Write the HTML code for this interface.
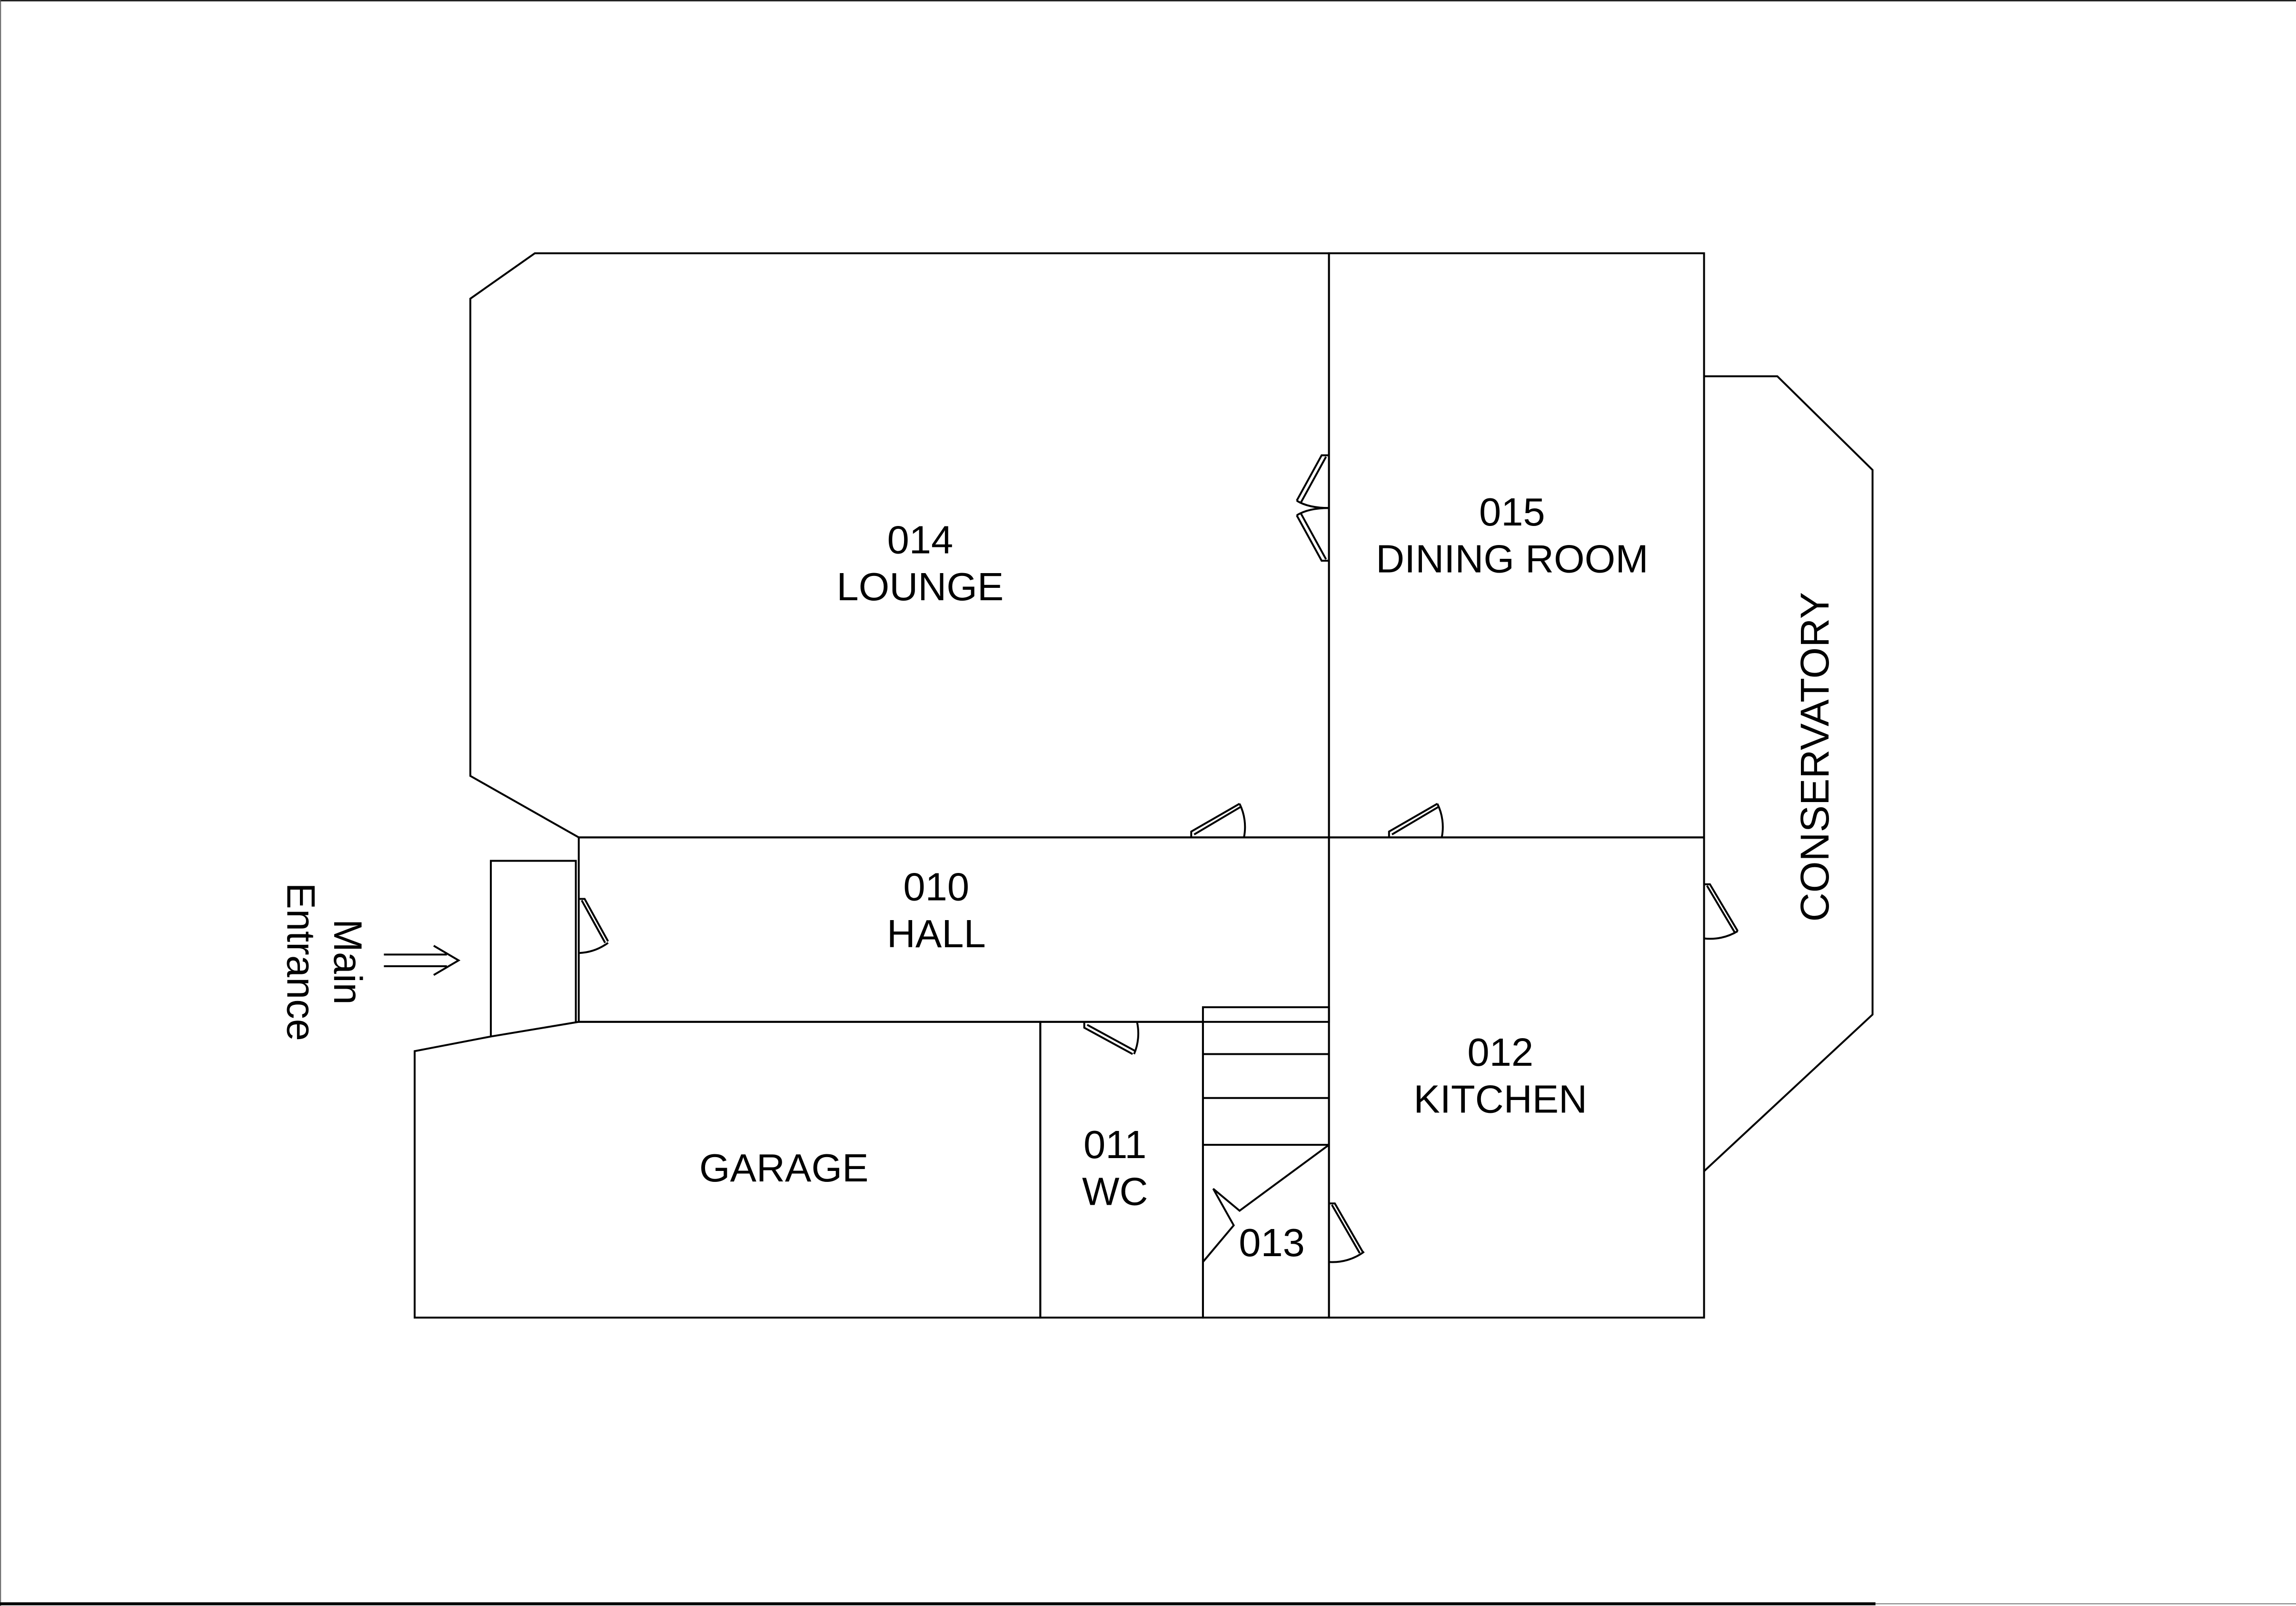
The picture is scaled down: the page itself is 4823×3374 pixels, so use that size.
<!DOCTYPE html>
<html><head><meta charset="utf-8"><style>html,body{margin:0;padding:0;background:#fff}svg{display:block}</style></head>
<body>
<svg width="4823" height="3374" viewBox="0 0 1567 1097" preserveAspectRatio="none" xmlns="http://www.w3.org/2000/svg">
<rect width="1567" height="1097" fill="#fff"/>
<g fill="none" stroke="#000" stroke-width="1.3">
<line x1="0" y1="0.5" x2="1567" y2="0.5" stroke-width="0.8"/>
<line x1="0.4" y1="0" x2="0.4" y2="1097" stroke-width="0.6" stroke="#555"/>
<line x1="0" y1="1095.5" x2="1280" y2="1095.5" stroke-width="2"/>
<line x1="1280" y1="1095.5" x2="1567" y2="1095.5" stroke-width="0.6" stroke="#666"/>
<polygon points="365,173 907,173 907,572 395,572 321,530 321,204"/>
<rect x="907" y="173" width="256" height="399"/>
<polyline points="1163,257 1213,257 1278,321 1278,693 1163,800"/>
<rect x="395" y="572" width="512" height="126"/>
<polyline points="335,708 335,588 393,588 393,698"/>
<polygon points="283,718 335,708 395,698 710,698 710,900 283,900"/>
<rect x="710" y="698" width="111" height="202"/>
<rect x="821" y="688" width="86" height="212"/>
<line x1="821" y1="720" x2="907" y2="720"/>
<line x1="821" y1="750" x2="907" y2="750"/>
<line x1="821" y1="782" x2="907" y2="782"/>
<polyline points="907,782 846,827 828,812 842,837 821,862"/>
<rect x="907" y="572" width="256" height="328"/>
<!-- doors -->
<path d="M813,572 L813,568 L846,549 M815,570 L847,551 M846,549 A36,36 0 0 1 849,572"/>
<path d="M948,572 L948,568 L981,549 M950,570 L982,551 M981,549 A36,36 0 0 1 984,572"/>
<path d="M395,614 L399,614 L415,643 M397,615 L413,644 M415,644 A36,36 0 0 1 395,651"/>
<path d="M740,698 L740,702 L773,720 M742,700 L775,718 M774,720 A36,36 0 0 0 776,698"/>
<path d="M907,822 L911,822 L930,855 M909,823 L928,856 M931,855 A36,36 0 0 1 907,862"/>
<path d="M1163,604 L1167,604 L1186,636 M1165,605 L1184,637 M1186,636 A36,36 0 0 1 1163,641"/>
<path d="M907,311 L902,311 L885,342 M905,312 L888,343 M885,342 Q893,347 907,347"/>
<path d="M907,383 L902,383 L885,352 M905,382 L888,351 M885,352 Q893,347 907,347"/>
<!-- arrow -->
<path d="M262,652 L305,652 M262,660 L305,660 M296,646 L313,656 L296,666"/>
</g>
<g font-family="Liberation Sans, sans-serif" font-size="27" fill="#000" text-anchor="middle">
<text x="628" y="378">014</text><text x="628" y="410">LOUNGE</text>
<text x="1032" y="359">015</text><text x="1032" y="391">DINING ROOM</text>
<text x="639" y="615">010</text><text x="639" y="647">HALL</text>
<text x="1024" y="728">012</text><text x="1024" y="760">KITCHEN</text>
<text x="761" y="791">011</text><text x="761" y="823">WC</text>
<text x="868" y="858">013</text>
<text x="535" y="807">GARAGE</text>
<text transform="translate(1248,517) rotate(-90)" font-size="27.5">CONSERVATORY</text>
<text transform="translate(228,657) rotate(90)">Main</text>
<text transform="translate(196,657) rotate(90)">Entrance</text>
</g>
</svg>
</body></html>
